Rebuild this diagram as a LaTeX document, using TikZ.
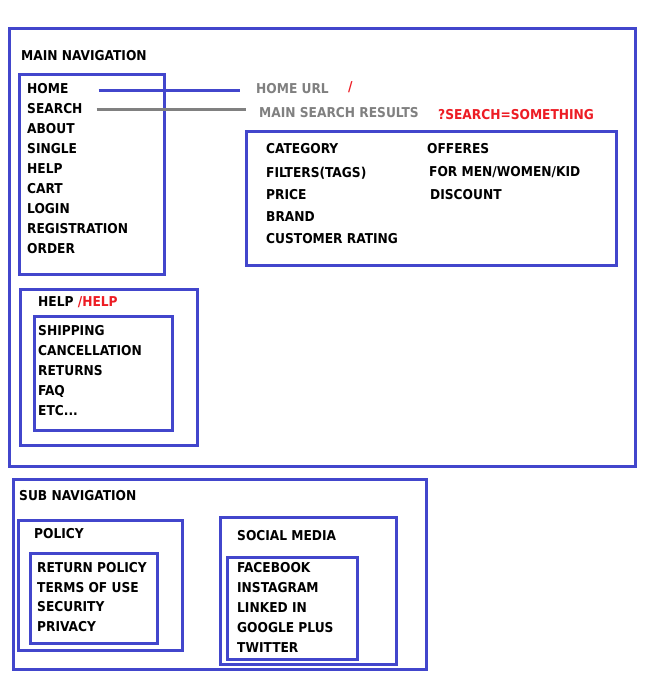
\documentclass[tikz,border=0pt]{standalone}
\usepackage{fontspec}
\setmainfont{DejaVu Sans Condensed}[BoldFont={DejaVu Sans Condensed Bold}]
\usepackage{tikz}
\usetikzlibrary{positioning}

\definecolor{navblue}{RGB}{66,70,204}
\definecolor{urlgray}{RGB}{128,128,128}
\definecolor{urlred}{RGB}{237,28,36}

\tikzset{
	box/.style={draw=navblue, line width=3pt},
	menuitem/.style={anchor=base west, inner sep=0pt, yshift=-5.5pt, font=\fontsize{13.6}{15}\selectfont\bfseries},
	urltext/.style={menuitem, text=urlgray},
	urlpath/.style={menuitem, text=urlred},
}

\begin{document}
\begin{tikzpicture}[x=1pt, y=-1pt]
		\useasboundingbox[fill=white] (0,0) rectangle (651,684);
		% main navigation
		\draw[box] (9,29) rectangle (635,466);
		\node[menuitem] (maintitle) at (21,55) {MAIN NAVIGATION};
		\draw[box] (19,75) rectangle (164,274);
		\foreach \t [count=\i] in {HOME,SEARCH,ABOUT,SINGLE,HELP,CART,LOGIN,REGISTRATION,ORDER}
			\node[menuitem] (nav\i) at (27,68+20*\i) {\t};
		\node[urltext] (homeurl) at (256,88) {HOME URL};
		\node[urlpath] (homepath) at (348,86) {/};
		\node[urltext] (searchurl) at (259,112) {MAIN SEARCH RESULTS};
		\node[urlpath] (searchpath) at (438,114) {?SEARCH=SOMETHING};
		\draw[navblue, line width=3pt] ([xshift=30pt, yshift=-1.5pt]nav1.east) -- ([xshift=-16pt, yshift=-1.5pt]homeurl.west |- nav1.east);
		\draw[urlgray, line width=3pt] ([xshift=14pt, yshift=-0.5pt]nav2.east) -- ([xshift=-13pt, yshift=-0.5pt]searchurl.west |- nav2.east);
		% search filters
		\draw[box] (246,132) rectangle (616,265);
		\foreach \t/\y in {CATEGORY/148, FILTERS(TAGS)/172, PRICE/194, BRAND/216, CUSTOMER RATING/238}
			\node[menuitem] at (266,\y) {\t};
		\node[menuitem] (offers) at (427,148) {OFFERES};
		\node[menuitem] (formen) at (429,171) {FOR MEN/WOMEN/KID};
		\node[menuitem] (discount) at (430,194) {DISCOUNT};
		% help
		\draw[box] (20,289) rectangle (197,445);
		\node[menuitem] (helptitle) at (38,301) {HELP \textcolor{urlred}{/HELP}};
		\draw[box] (34,316) rectangle (172,430);
		\foreach \t [count=\i] in {SHIPPING,CANCELLATION,RETURNS,FAQ,ETC.{}.{}.}
			\node[menuitem] (help\i) at (38,310+20*\i) {\t};
		% sub navigation
		\draw[box] (13,479) rectangle (426,669);
		\node[menuitem] (subtitle) at (19,495) {SUB NAVIGATION};
		\draw[box] (18,520) rectangle (182,650);
		\node[menuitem] (policytitle) at (34,533) {POLICY};
		\draw[box] (30,553) rectangle (157,643);
		\foreach \t [count=\i] in {RETURN POLICY,TERMS OF USE,SECURITY,PRIVACY}
			\node[menuitem] (policy\i) at (37,547.3+19.7*\i) {\t};
		\draw[box] (220,517) rectangle (396,664);
		\node[menuitem] (socialtitle) at (237,535) {SOCIAL MEDIA};
		\draw[box] (227,557) rectangle (357,659);
		\foreach \t [count=\i] in {FACEBOOK,INSTAGRAM,LINKED IN,GOOGLE PLUS,TWITTER}
			\node[menuitem] (social\i) at (237,547+20*\i) {\t};
	\end{tikzpicture}
\end{document}
